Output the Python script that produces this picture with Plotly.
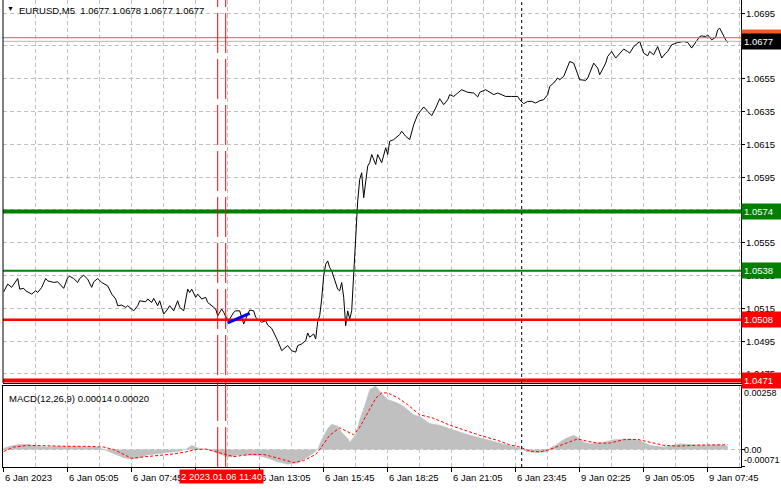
import plotly.graph_objects as go

# EURUSD M5, bar index 0 = 6 Jan 2023 02:25 (5-minute bars, weekend gap removed)
price_bars = [0, 2, 4, 7, 8, 10, 11, 14, 16, 17, 19, 21, 22, 25, 27, 29, 30, 32, 33, 35,
              37, 38, 40, 42, 44, 45, 47, 49, 52, 54, 56, 57, 59, 61, 62, 65, 67, 68, 71, 72,
              74, 75, 77, 78, 80, 82, 83, 85, 87, 88, 90, 92, 93, 94, 96, 97, 99, 101, 102, 105,
              106, 107, 109, 110, 112, 113, 115, 116, 118, 119, 120, 122, 123, 125, 126, 127, 129, 131, 132, 134,
              136, 137, 139, 141, 142, 144, 146, 147, 149, 151, 152, 153, 155, 156, 157, 158, 159, 160, 161, 162,
              163, 164, 166, 167, 168, 169, 170, 171, 172, 173, 174, 176, 177, 178, 179, 180, 181, 182, 183, 184,
              186, 187, 189, 191, 192, 193, 195, 197, 198, 199, 201, 203, 205, 207, 210, 212, 214, 216, 218, 220,
              222, 223, 225, 227, 229, 232, 235, 237, 238, 241, 243, 245, 247, 249, 251, 254, 257, 258, 260, 262,
              264, 266, 268, 270, 272, 273, 275, 277, 278, 280, 282, 283, 285, 286, 287, 288, 291, 292, 295, 297,
              298, 301, 302, 304, 306, 308, 310, 312, 313, 315, 317, 318, 320, 322, 323, 325, 327, 329, 331, 332,
              334, 337, 340, 342, 344, 346, 348, 349, 351, 352, 354, 356, 357, 358, 360, 361, 362]
close = [1.05251, 1.05298, 1.05278, 1.05332, 1.05267, 1.05272, 1.05257, 1.05237, 1.05257, 1.05247,
         1.05278, 1.05332, 1.05318, 1.05308, 1.05312, 1.05287, 1.05272, 1.05338, 1.05345, 1.05332,
         1.05308, 1.05332, 1.05352, 1.05328, 1.05278, 1.05312, 1.05332, 1.05308, 1.05287, 1.05237,
         1.05207, 1.05166, 1.05170, 1.05156, 1.05166, 1.05135, 1.05166, 1.05196, 1.05190, 1.05207,
         1.05186, 1.05211, 1.05166, 1.05196, 1.05115, 1.05146, 1.05166, 1.05135, 1.05196, 1.05156,
         1.05135, 1.05267, 1.05247, 1.05267, 1.05217, 1.05237, 1.05207, 1.05217, 1.05186, 1.05156,
         1.05146, 1.05105, 1.05146, 1.05126, 1.05075, 1.05085, 1.05126, 1.05135, 1.05135, 1.05095,
         1.05055, 1.05115, 1.05140, 1.05135, 1.05095, 1.05085, 1.05065, 1.05075, 1.05048, 1.05028,
         1.04983, 1.04953, 1.04892, 1.04913, 1.04923, 1.04892, 1.04883, 1.04923, 1.04933, 1.04953,
         1.05000, 1.04974, 1.04994, 1.04963, 1.05069, 1.05105, 1.05207, 1.05348, 1.05419, 1.05439,
         1.05399, 1.05379, 1.05308, 1.05267, 1.05257, 1.05308, 1.05217, 1.05044, 1.05135, 1.05085,
         1.05135, 1.05582, 1.05804, 1.05936, 1.05977, 1.05825, 1.05926, 1.06017, 1.06038, 1.06088,
         1.06027, 1.06088, 1.06038, 1.06129, 1.06088, 1.06169, 1.06179, 1.06199, 1.06210, 1.06230,
         1.06199, 1.06179, 1.06270, 1.06331, 1.06378, 1.06351, 1.06325, 1.06372, 1.06428, 1.06392,
         1.06422, 1.06453, 1.06442, 1.06463, 1.06483, 1.06467, 1.06463, 1.06439, 1.06467, 1.06483,
         1.06467, 1.06453, 1.06463, 1.06453, 1.06442, 1.06442, 1.06442, 1.06422, 1.06398, 1.06412,
         1.06412, 1.06402, 1.06416, 1.06422, 1.06453, 1.06503, 1.06524, 1.06554, 1.06544, 1.06564,
         1.06625, 1.06655, 1.06645, 1.06615, 1.06585, 1.06544, 1.06540, 1.06554, 1.06645, 1.06615,
         1.06574, 1.06645, 1.06686, 1.06716, 1.06676, 1.06706, 1.06731, 1.06716, 1.06706, 1.06746,
         1.06763, 1.06777, 1.06706, 1.06690, 1.06716, 1.06696, 1.06746, 1.06676, 1.06706, 1.06716,
         1.06757, 1.06771, 1.06777, 1.06771, 1.06737, 1.06771, 1.06807, 1.06811, 1.06807, 1.06817,
         1.06787, 1.06803, 1.06848, 1.06858, 1.06807, 1.06787, 1.06770]

hist_bars = [0, 3, 7, 12, 17, 22, 27, 32, 37, 42, 47, 50, 53, 57, 60, 63, 67, 72, 77, 82,
             87, 91, 94, 98, 102, 107, 112, 117, 122, 127, 132, 137, 142, 147, 151, 154, 157, 159, 162, 164,
             167, 169, 172, 173, 176, 178, 181, 183, 186, 188, 192, 197, 200, 205, 208, 213, 218, 223, 228, 233,
             240, 247, 253, 258, 262, 267, 272, 273, 276, 278, 281, 285, 287, 290, 293, 300, 305, 313, 318, 323,
             330, 338, 345, 350, 358, 362]
macd_hist = [0.00005, 0.00013, 0.00020, 0.00020, 0.00013, 0.00010, 0.00012, 0.00012, 0.00010, 0.00012,
             0.00010, 0.00000, -0.00010, -0.00025, -0.00033, -0.00039, -0.00035, -0.00022, -0.00018, -0.00013,
             -0.00008, 0.00000, 0.00017, 0.00003, 0.00000, -0.00013, -0.00032, -0.00022, -0.00022, -0.00024,
             -0.00035, -0.00050, -0.00060, -0.00055, -0.00035, -0.00020, 0.00000, 0.00040, 0.00085, 0.00103,
             0.00095, 0.00070, 0.00045, 0.00030, 0.00060, 0.00120, 0.00190, 0.00244, 0.00258, 0.00237,
             0.00203, 0.00189, 0.00175, 0.00141, 0.00134, 0.00106, 0.00099, 0.00085, 0.00072, 0.00058,
             0.00044, 0.00030, 0.00017, 0.00005, -0.00010, -0.00012, -0.00010, 0.00005, 0.00017, 0.00030,
             0.00045, 0.00058, 0.00050, 0.00030, 0.00023, 0.00030, 0.00040, 0.00044, 0.00037, 0.00017,
             0.00010, 0.00023, 0.00019, 0.00017, 0.00019, 0.00014]

signal_bars = [0, 5, 12, 22, 32, 42, 50, 55, 60, 64, 70, 78, 85, 91, 96, 101, 107, 115, 123, 130,
               137, 145, 150, 156, 158, 163, 168, 172, 175, 178, 182, 186, 189, 192, 197, 202, 208, 215, 223, 230,
               238, 247, 253, 258, 263, 268, 273, 280, 287, 292, 297, 303, 310, 317, 323, 330, 337, 347, 360, 362]
signal = [-0.00008, 0.00010, 0.00017, 0.00014, 0.00013, 0.00013, 0.00010, 0.00000, -0.00020, -0.00036,
          -0.00030, -0.00025, -0.00018, -0.00010, 0.00000, 0.00002, -0.00010, -0.00029, -0.00020, -0.00020,
          -0.00035, -0.00053, -0.00045, -0.00020, 0.00000, 0.00058, 0.00088, 0.00072, 0.00060, 0.00090,
          0.00150, 0.00208, 0.00230, 0.00230, 0.00210, 0.00182, 0.00141, 0.00127, 0.00099, 0.00079,
          0.00058, 0.00037, 0.00019, 0.00010, -0.00006, -0.00010, 0.00000, 0.00022, 0.00043, 0.00033,
          0.00026, 0.00026, 0.00040, 0.00041, 0.00030, 0.00017, 0.00014, 0.00018, 0.00019, 0.00020]

tick_bars = [0, 32, 64, 96, 128, 160, 192, 224, 256, 288, 320, 352]
tick_labels = ["6 Jan 2023", "6 Jan 05:05", "6 Jan 07:45", "6 Jan 10:25", "6 Jan 13:05", "6 Jan 15:45",
               "6 Jan 18:25", "6 Jan 21:05", "6 Jan 23:45", "9 Jan 02:25", "9 Jan 05:05", "9 Jan 07:45"]
price_ticks = [1.0475, 1.0495, 1.0515, 1.0535, 1.0555, 1.0575, 1.0595, 1.0615, 1.0635, 1.0655, 1.0675, 1.0695]

level_prices = [1.0574, 1.0538, 1.0508, 1.0471]
level_labels = ["1.0574", "1.0538", "1.0508", "1.0471"]
ask_price = 1.0680
bid_price = 1.06778
bid_label = "1.0677"
event_bars = [107, 111]
event_label = "2 2023.01.06 11:40"
day_separator_bar = 259
trend_bars = [112, 123]
trend_prices = [1.05061, 1.05120]
macd_min, macd_max = -0.00071, 0.00258

FONT = "Liberation Sans"
GRID = "#c0c0c0"
main_dom = [0.1799, 1.0]
macd_dom = [0.0, 0.1735]

fig = go.Figure()
fig.add_trace(go.Scatter(x=price_bars, y=close, mode="lines", line=dict(color="black", width=1),
                         xaxis="x", yaxis="y", showlegend=False))
fig.add_trace(go.Scatter(x=hist_bars, y=macd_hist, mode="lines", fill="tozeroy", fillcolor="#c0c0c0",
                         line=dict(color="#c0c0c0", width=0.5), xaxis="x2", yaxis="y2", showlegend=False))
fig.add_trace(go.Scatter(x=signal_bars, y=signal, mode="lines",
                         line=dict(color="red", width=1, dash="3px,2px"),
                         xaxis="x2", yaxis="y2", showlegend=False))

shapes = []
# MACD zero level (dashed, like the grid)
shapes.append(dict(type="line", xref="x2 domain", yref="y2", x0=0, x1=1, y0=0, y1=0, layer="below",
                   line=dict(color=GRID, width=1, dash="4px,3px")))
level_styles = [("#008000", 4), ("#008000", 2), ("#ff0000", 2.5), ("#ff0000", 4)]
for p, (c, w) in zip(level_prices, level_styles):
    shapes.append(dict(type="line", xref="x domain", yref="y", x0=0, x1=1, y0=p, y1=p,
                       line=dict(color=c, width=w)))
shapes.append(dict(type="line", xref="x domain", yref="y", x0=0, x1=1, y0=ask_price, y1=ask_price,
                   line=dict(color="#f05a28", width=1)))
shapes.append(dict(type="line", xref="x domain", yref="y", x0=0, x1=1, y0=bid_price, y1=bid_price,
                   line=dict(color="#b4b4b4", width=1)))
shapes.append(dict(type="line", xref="x", yref="y", x0=trend_bars[0], x1=trend_bars[1],
                   y0=trend_prices[0], y1=trend_prices[1], line=dict(color="#0000ff", width=3)))
for b in event_bars:
    shapes.append(dict(type="line", xref="x", yref="paper", x0=b, x1=b, y0=0, y1=1,
                       line=dict(color="#ff0000", width=1, dash="40px,6px")))
shapes.append(dict(type="line", xref="x", yref="paper", x0=day_separator_bar, x1=day_separator_bar,
                   y0=0, y1=1, line=dict(color="black", width=1, dash="3px,3px")))
shapes.append(dict(type="line", xref="paper", yref="paper", x0=0, x1=0, y0=main_dom[0], y1=1,
                   line=dict(color="black", width=1)))

txt = dict(size=9.5, color="black", family=FONT)
ann = []
ann.append(dict(text="▼", xref="paper", yref="paper", x=0, y=1, xanchor="left", yanchor="top",
                xshift=2, yshift=-3, showarrow=False, font=dict(size=7, color="black")))
ann.append(dict(text="EURUSD,M5  1.0677 1.0678 1.0677 1.0677", xref="paper", yref="paper", x=0, y=1,
                xanchor="left", yanchor="top", xshift=14, yshift=-3, showarrow=False, font=txt))
ann.append(dict(text="MACD(12,26,9) 0.00014 0.00020", xref="paper", yref="paper", x=0, y=macd_dom[1],
                xanchor="left", yanchor="top", xshift=4, yshift=-5, showarrow=False, font=txt))
# price scale labels
for p in price_ticks:
    ann.append(dict(text=f"{p:.4f}", xref="paper", yref="y", x=1, y=p, xanchor="left", yanchor="middle",
                    xshift=3, showarrow=False, font=txt))
for b, t in zip(tick_bars, tick_labels):
    ann.append(dict(text=t, xref="x2", yref="paper", x=b, y=0, xanchor="left", yanchor="top",
                    xshift=-1, yshift=-3, showarrow=False, font=txt))
ann.append(dict(text=event_label, xref="x2", yref="paper", x=109, y=0, xanchor="center", yanchor="top",
                yshift=-2, showarrow=False, bgcolor="#ff0000", borderpad=1,
                font=dict(size=9.5, color="white", family=FONT)))
# MACD window min/max/zero labels
for v, t, ya in [(macd_max, "0.00258", "top"), (0, "0.00", "middle"), (macd_min, "-0.00071", "bottom")]:
    ann.append(dict(text=t, xref="paper", yref="y2", x=1, y=v, xanchor="left", yanchor=ya,
                    xshift=1, showarrow=False, font=dict(size=9, color="black", family=FONT)))
# price boxes on the right scale
box_colors = ["#008000", "#008000", "#ff0000", "#ff0000"]
ann.append(dict(text="1.0680", xref="paper", yref="y", x=1, y=ask_price, xanchor="left", yanchor="middle",
                width=36, height=11, align="left", borderpad=2, bgcolor="#f05a28", showarrow=False,
                font=dict(size=9.5, color="white", family=FONT)))
ann.append(dict(text=bid_label, xref="paper", yref="y", x=1, y=bid_price, xanchor="left", yanchor="middle",
                width=36, height=11, align="left", borderpad=2, bgcolor="black", showarrow=False,
                font=dict(size=9.5, color="white", family=FONT)))
for p, t, c in zip(level_prices, level_labels, box_colors):
    ann.append(dict(text=t, xref="paper", yref="y", x=1, y=p, xanchor="left", yanchor="middle",
                    width=36, height=11, align="left", borderpad=2, bgcolor=c, showarrow=False,
                    font=dict(size=9.5, color="white", family=FONT)))

xcommon = dict(range=[-0.35, 368.65], tick0=0, dtick=16, showgrid=True, gridcolor=GRID,
               griddash="4px,3px", gridwidth=1, zeroline=False)

fig.update_layout(
    width=781, height=489,
    margin=dict(l=3, r=40, t=0, b=22),
    paper_bgcolor="white", plot_bgcolor="white",
    font=dict(family=FONT, size=9.5, color="black"),
    showlegend=False,
    xaxis=dict(**xcommon, anchor="y", domain=[0, 1], showticklabels=False, ticks="",
               showline=True, linecolor="black", linewidth=1),
    xaxis2=dict(range=[-0.35, 368.65], anchor="y2", domain=[0, 1], matches="x",
                tickmode="array", tickvals=tick_bars, showticklabels=False, ticks="outside",
                ticklen=4, tickcolor="black", showgrid=True, gridcolor=GRID, griddash="4px,3px",
                minor=dict(tickmode="linear", tick0=0, dtick=16, showgrid=True, gridcolor=GRID,
                           griddash="4px,3px", ticks=""),
                zeroline=False, showline=True, mirror=True, linecolor="black", linewidth=1),
    yaxis=dict(domain=main_dom, anchor="x", side="right", range=[1.04695, 1.0703],
               tickmode="array", tickvals=price_ticks, showticklabels=False,
               ticks="outside", ticklen=3, tickcolor="black", showgrid=True, gridcolor=GRID,
               griddash="4px,3px", zeroline=False, showline=True, linecolor="black", linewidth=1),
    yaxis2=dict(domain=macd_dom, anchor="x2", side="right", range=[macd_min, macd_max],
                tickmode="array", tickvals=[macd_min, 0, macd_max], showticklabels=False,
                ticks="outside", ticklen=3, tickcolor="black", showgrid=False, zeroline=False,
                showline=True, mirror=True, linecolor="black", linewidth=1),
    shapes=shapes,
    annotations=ann,
)

# the page's default body margin would shift the 781x489 figure, so remove it
fig.write_html("out.html", config={"displayModeBar": False},
               post_script="document.body.style.margin='0';")
